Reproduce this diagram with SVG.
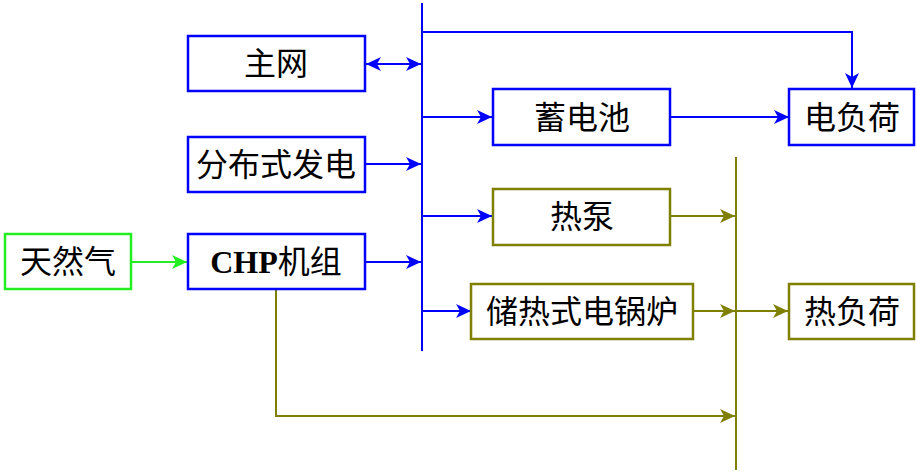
<svg xmlns="http://www.w3.org/2000/svg" width="917" height="471" viewBox="0 0 917 471">
<defs>
<style>
.box{fill:#fff;stroke-width:2.5}
.b{stroke:#0000ff}
.g{stroke:#22ee22}
.o{stroke:#808000}
.t{font-family:"Liberation Serif","Noto Sans CJK SC",serif;font-size:32px;fill:#000;text-anchor:middle}
.ln{fill:none;stroke-width:2}
</style>
<marker id="ab" markerUnits="userSpaceOnUse" markerWidth="16" markerHeight="14" refX="15" refY="7" orient="auto-start-reverse" viewBox="0 0 16 14"><path d="M0,0 L15,7 L0,14 L4,7 z" fill="#0000ff"/></marker>
<marker id="ag" markerUnits="userSpaceOnUse" markerWidth="16" markerHeight="14" refX="15" refY="7" orient="auto" viewBox="0 0 16 14"><path d="M0,0 L15,7 L0,14 L4,7 z" fill="#22ee22"/></marker>
<marker id="ao" markerUnits="userSpaceOnUse" markerWidth="16" markerHeight="14" refX="15" refY="7" orient="auto" viewBox="0 0 16 14"><path d="M0,0 L15,7 L0,14 L4,7 z" fill="#808000"/></marker>
</defs>
<g id="connectors">
<line class="ln b" x1="422" y1="3" x2="422" y2="351"/>
<line class="ln o" x1="736" y1="157" x2="736" y2="470"/>
<line class="ln b" x1="366" y1="64" x2="421" y2="64" marker-start="url(#ab)" marker-end="url(#ab)"/>
<polyline class="ln b" points="422,32 852,32 852,88" marker-end="url(#ab)"/>
<line class="ln b" x1="422" y1="117" x2="492" y2="117" marker-end="url(#ab)"/>
<line class="ln b" x1="670" y1="117" x2="789" y2="117" marker-end="url(#ab)"/>
<line class="ln b" x1="365" y1="164" x2="421" y2="164" marker-end="url(#ab)"/>
<line class="ln b" x1="422" y1="216" x2="492" y2="216" marker-end="url(#ab)"/>
<line class="ln g" x1="131" y1="262" x2="187" y2="262" marker-end="url(#ag)"/>
<line class="ln b" x1="366" y1="262" x2="421" y2="262" marker-end="url(#ab)"/>
<line class="ln b" x1="422" y1="311" x2="471" y2="311" marker-end="url(#ab)"/>
<line class="ln o" x1="670" y1="216" x2="735" y2="216" marker-end="url(#ao)"/>
<line class="ln o" x1="693" y1="311" x2="735" y2="311" marker-end="url(#ao)"/>
<line class="ln o" x1="736" y1="311" x2="788" y2="311" marker-end="url(#ao)"/>
<polyline class="ln o" points="276,289 276,416 735,416" marker-end="url(#ao)"/>
</g>
<g id="zhuwang"><rect class="box b" x="188" y="36" width="177" height="55"/><text class="t" x="276" y="75">主网</text></g>
<g id="fenbushi"><rect class="box b" x="188" y="137" width="177" height="55"/><text class="t" x="276" y="176">分布式发电</text></g>
<g id="tianranqi"><rect class="box g" x="5" y="234" width="126" height="55"/><text class="t" x="68" y="273">天然气</text></g>
<g id="chp"><rect class="box b" x="188" y="234" width="177" height="55"/><text class="t" x="276" y="273"><tspan font-weight="bold">CHP</tspan>机组</text></g>
<g id="xudianchi"><rect class="box b" x="493" y="89" width="177" height="56"/><text class="t" x="582" y="129">蓄电池</text></g>
<g id="rebeng"><rect class="box o" x="493" y="189" width="177" height="56"/><text class="t" x="582" y="228">热泵</text></g>
<g id="chureshi"><rect class="box o" x="471" y="284" width="222" height="55"/><text class="t" x="582" y="323">储热式电锅炉</text></g>
<g id="dianfuhe"><rect class="box b" x="789" y="89" width="125" height="56"/><text class="t" x="852" y="129">电负荷</text></g>
<g id="refuhe"><rect class="box o" x="789" y="284" width="125" height="55"/><text class="t" x="852" y="323">热负荷</text></g>
</svg>
